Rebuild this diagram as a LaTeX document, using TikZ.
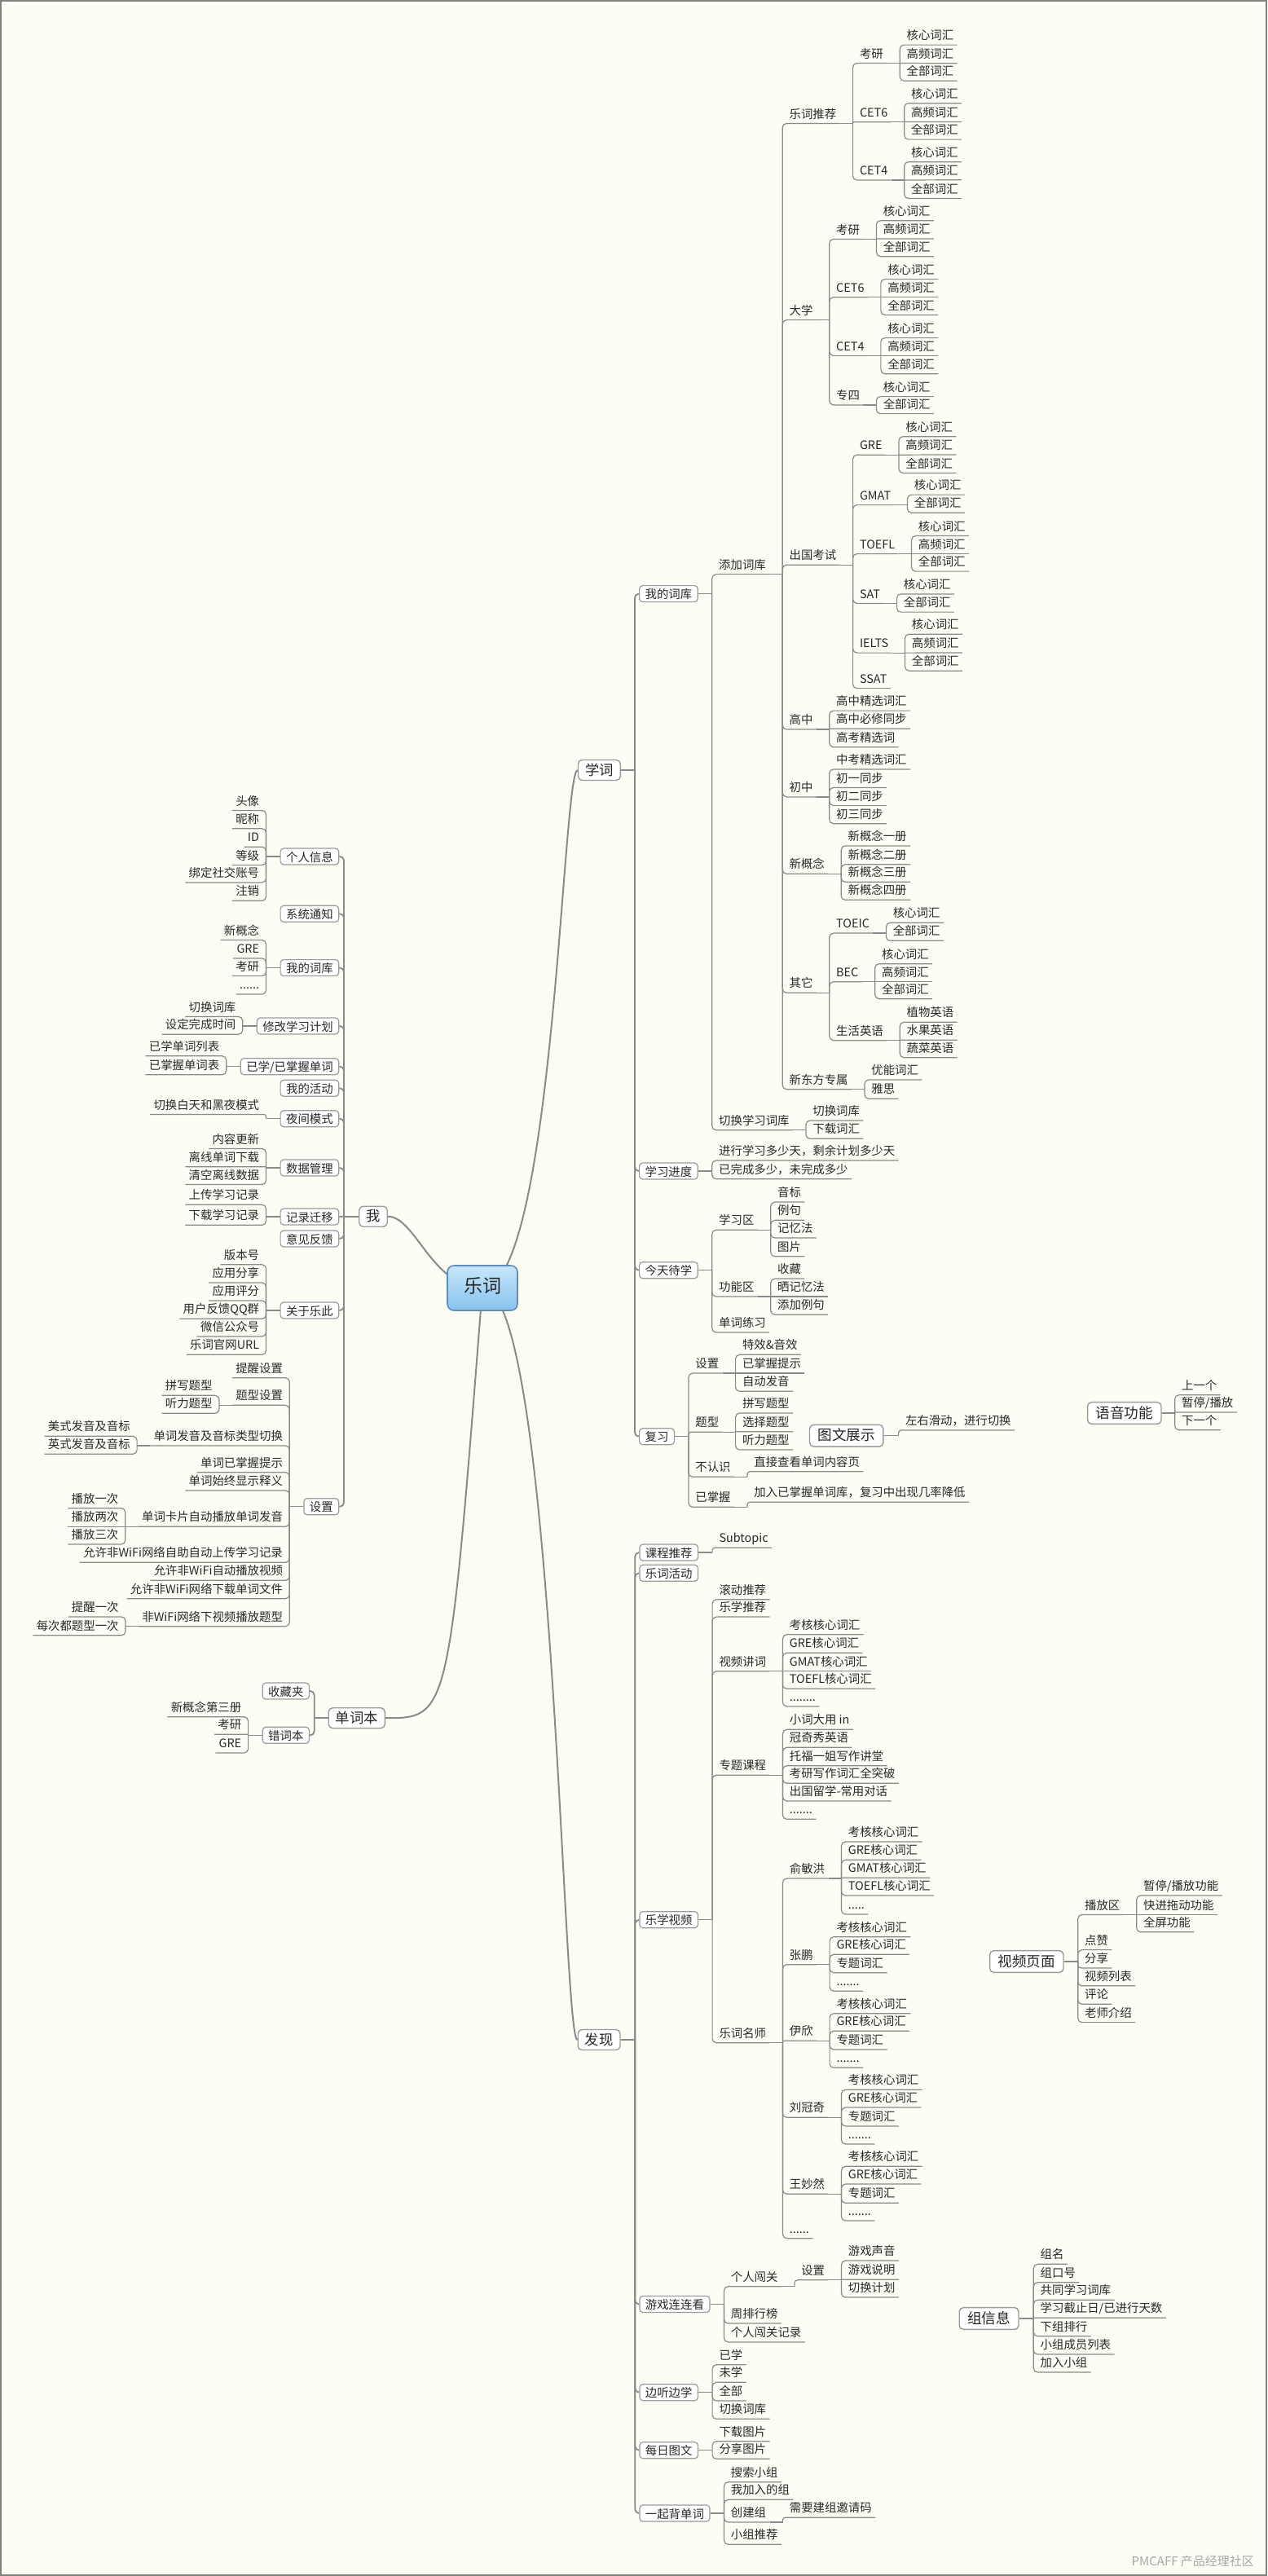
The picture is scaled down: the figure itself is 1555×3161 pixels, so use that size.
\documentclass[tikz,border=0pt]{standalone}
\usepackage{fontspec}
\setmainfont{Noto Sans CJK SC}
\usetikzlibrary{calc}
\definecolor{bgc}{RGB}{253,253,246}
\definecolor{linec}{RGB}{138,138,138}
\definecolor{txtc}{RGB}{40,40,40}
\definecolor{boxd}{RGB}{155,155,155}
\definecolor{frm}{RGB}{128,128,124}
\definecolor{roott}{RGB}{200,230,250}
\definecolor{rootb}{RGB}{135,195,238}
\definecolor{rootd}{RGB}{95,140,185}
\pgfdeclarelayer{back}\pgfdeclarelayer{bgl}\pgfsetlayers{back,bgl,main}
\tikzset{
 conn/.style={draw=linec, line width=0.6pt},
 conn2/.style={draw=linec, line width=0.9pt},
 conn3/.style={draw=linec, line width=1pt},
 lf/.style={font=\fontsize{7.2}{8.6}\selectfont, text=txtc, inner xsep=2pt, inner ysep=1pt, text height=0.82em, text depth=0.2em},
 leafR/.style={lf, anchor=south west, xshift=2pt},
 leafL/.style={lf, anchor=south east, xshift=-2pt},
 bx/.style={draw=boxd, fill=white, line width=0.6pt, rounded corners=2pt, font=\fontsize{7.2}{8.6}\selectfont, text=txtc, inner xsep=3.5pt, inner ysep=0pt, minimum height=10pt, text height=0.8em, text depth=0.18em},
 boxR/.style={bx, anchor=west, xshift=2.5pt},
 boxL/.style={bx, anchor=east, xshift=-2.85pt},
 mainbox/.style={draw=boxd, fill=white, line width=0.7pt, rounded corners=2.5pt, font=\fontsize{8.65}{10}\selectfont, text=black!85, inner xsep=4.3pt, inner ysep=0pt, minimum height=12.5pt, text height=0.8em, text depth=0.18em},
 floatbox/.style={mainbox, font=\fontsize{8.8}{10}\selectfont, inner xsep=5pt, minimum height=13.4pt},
 rootbox/.style={draw=rootd, top color=roott, bottom color=rootb, line width=0.8pt, rounded corners=4pt, font=\fontsize{11.5}{13}\selectfont, text=black!85, inner xsep=10pt, inner ysep=0pt, minimum height=27.5pt, text height=0.8em, text depth=0.18em}
}
\newcommand\mysetY[2]{\expandafter\xdef\csname yy-#1\endcsname{#2}}
\newcommand\mylnk[4]{%
  \draw[#1] (#2E) -- (#2J);%
  \pgfmathsetmacro\myrr{min(2.5,abs(#3-\csname yy-#2\endcsname)*0.25)}%
  \ifdim\myrr pt<0.08pt\relax
    \draw[#1] (#2J) -- (#4);%
  \else
    \draw[#1,rounded corners=\myrr pt] (#2J) |- (#4);%
  \fi}
\newcommand\lfR[4]{%
  \node[leafR] (#2) at (#1J |- 0,#3) {#4};%
  \mysetY{#2}{#3}%
  \coordinate (#2E) at (#2.south east);%
  \coordinate (#2J) at ([xshift=8pt]#2.south east);%
  \mylnk{conn}{#1}{#3}{#2.south east}}
\newcommand\lfL[4]{%
  \node[leafL] (#2) at (#1J |- 0,#3) {#4};%
  \mysetY{#2}{#3}%
  \coordinate (#2E) at (#2.south west);%
  \coordinate (#2J) at ([xshift=-8pt]#2.south west);%
  \mylnk{conn}{#1}{#3}{#2.south west}}
\newcommand\bxR[4]{%
  \node[boxR] (#2) at (#1J |- 0,#3) {#4};%
  \mysetY{#2}{#3}%
  \coordinate (#2E) at (#2.east);%
  \coordinate (#2J) at ([xshift=8.5pt]#2.east);%
  \mylnk{conn2}{#1}{#3}{#2.west}}
\newcommand\bxL[4]{%
  \node[boxL] (#2) at (#1J |- 0,#3) {#4};%
  \mysetY{#2}{#3}%
  \coordinate (#2E) at (#2.west);%
  \coordinate (#2J) at ([xshift=-8.5pt]#2.west);%
  \mylnk{conn2}{#1}{#3}{#2.east}}
\newcommand\prepR[3]{\mysetY{#1}{#2}\coordinate (#1E) at (#1.east);\coordinate (#1J) at ([xshift=#3]#1.east);}
\newcommand\prepL[3]{\mysetY{#1}{#2}\coordinate (#1E) at (#1.west);\coordinate (#1J) at ([xshift=-#3]#1.west);}
\newcommand\kgq[4]{\lfR{#1}{#1k}{#2}{核心词汇}\lfR{#1}{#1g}{#3}{高频词汇}\lfR{#1}{#1q}{#4}{全部词汇}}
\newcommand\kq[3]{\lfR{#1}{#1k}{#2}{核心词汇}\lfR{#1}{#1q}{#3}{全部词汇}}
\newcommand\msf[5]{\lfR{#1}{#1a}{#2}{考核核心词汇}\lfR{#1}{#1b}{#3}{GRE核心词汇}\lfR{#1}{#1c}{#4}{专题词汇}\lfR{#1}{#1d}{#5}{.......}}

\begin{document}
\begin{tikzpicture}[x=0.5pt,y=-0.5pt]
\useasboundingbox (0,0) rectangle (1555,3161);
\begin{pgfonlayer}{back}
\fill[bgc] (0,0) rectangle (1555,3161);
\draw[frm, line width=1.2pt] (1.2,1.2) rectangle (1553.8,3159.8);
\end{pgfonlayer}

\node[rootbox] (root) at (592,1580.5) {乐词};

% ================= 学词 =================
\node[mainbox, anchor=east] (xue) at (762,945) {学词}; \prepR{xue}{945}{8.5pt}
\bxR{xue}{wdck}{728.6}{我的词库}
\lfR{wdck}{tj}{704.6}{添加词库}
\lfR{tj}{aa}{151.5}{乐词推荐}
 \lfR{aa}{aaa}{77.5}{考研}\kgq{aaa}{55.1}{77.8}{99.2}
 \lfR{aa}{aab}{149.8}{CET6}\kgq{aab}{126.7}{149.4}{171.1}
 \lfR{aa}{aac}{221}{CET4}\kgq{aac}{198.7}{220.7}{243.5}
\lfR{tj}{ab}{392.6}{大学}
 \lfR{ab}{aba}{293.4}{考研}\kgq{aba}{270.7}{293}{314.7}
 \lfR{ab}{abb}{364.7}{CET6}\kgq{abb}{342.6}{364.7}{386.4}
 \lfR{ab}{abc}{436.6}{CET4}\kgq{abc}{414.6}{436.6}{458.7}
 \lfR{ab}{abd}{496.9}{专四}\kq{abd}{486.6}{507.6}
\lfR{tj}{ac}{693.2}{出国考试}
 \lfR{ac}{aca}{558.2}{GRE}\kgq{aca}{535.7}{557.9}{580.4}
 \lfR{ac}{acb}{619.6}{GMAT}\kq{acb}{607.1}{629.3}
 \lfR{ac}{acc}{679.6}{TOEFL}\kgq{acc}{657.5}{679.6}{701.1}
 \lfR{ac}{acd}{740.4}{SAT}\kq{acd}{728.9}{751.1}
 \lfR{ac}{ace}{801.1}{IELTS}\kgq{ace}{778.2}{801}{823.2}
 \lfR{ac}{acf}{844.6}{SSAT}
\lfR{tj}{ad}{895}{高中}
 \lfR{ad}{ada}{872.1}{高中精选词汇}
 \lfR{ad}{adb}{894.3}{高中必修同步}
 \lfR{ad}{adc}{916.8}{高考精选词}
\lfR{tj}{ae}{977.9}{初中}
 \lfR{ae}{aea}{943.9}{中考精选词汇}
 \lfR{ae}{aeb}{966.4}{初一同步}
 \lfR{ae}{aec}{988.6}{初二同步}
 \lfR{ae}{aed}{1010.7}{初三同步}
\lfR{tj}{af}{1072.3}{新概念}
 \lfR{af}{afa}{1037.9}{新概念一册}
 \lfR{af}{afb}{1060.7}{新概念二册}
 \lfR{af}{afc}{1082.3}{新概念三册}
 \lfR{af}{afd}{1104.3}{新概念四册}
\lfR{tj}{ag}{1218.3}{其它}
 \lfR{ag}{aga}{1145}{TOEIC}\kq{aga}{1132.3}{1154.3}
 \lfR{ag}{agb}{1204.7}{BEC}\kgq{agb}{1182.7}{1204.7}{1225.7}
 \lfR{ag}{agc}{1276.7}{生活英语}
  \lfR{agc}{agca}{1254.3}{植物英语}
  \lfR{agc}{agcb}{1276.3}{水果英语}
  \lfR{agc}{agcc}{1297.7}{蔬菜英语}
\lfR{tj}{ah}{1336.7}{新东方专属}
 \lfR{ah}{aha}{1325}{优能词汇}
 \lfR{ah}{ahb}{1348.3}{雅思}
\lfR{wdck}{qh}{1386.7}{切换学习词库}
 \lfR{qh}{qha}{1375}{切换词库}
 \lfR{qh}{qhb}{1397.3}{下载词汇}
\bxR{xue}{jd}{1437}{学习进度}
 \lfR{jd}{jda}{1424}{进行学习多少天，剩余计划多少天}
 \lfR{jd}{jdb}{1446.7}{已完成多少，未完成多少}
\bxR{xue}{dx}{1558.7}{今天待学}
 \lfR{dx}{dxa}{1509.3}{学习区}
  \lfR{dxa}{dxa1}{1475}{音标}
  \lfR{dxa}{dxa2}{1497.3}{例句}
  \lfR{dxa}{dxa3}{1519}{记忆法}
  \lfR{dxa}{dxa4}{1541.7}{图片}
 \lfR{dx}{dxb}{1591}{功能区}
  \lfR{dxb}{dxb1}{1569}{收藏}
  \lfR{dxb}{dxb2}{1591}{晒记忆法}
  \lfR{dxb}{dxb3}{1613.3}{添加例句}
 \lfR{dx}{dxc}{1635}{单词练习}
\bxR{xue}{fu}{1762.7}{复习}
 \lfR{fu}{fua}{1685}{设置}
  \lfR{fua}{fua1}{1662.3}{特效\&音效}
  \lfR{fua}{fua2}{1685}{已掌握提示}
  \lfR{fua}{fua3}{1707.3}{自动发音}
 \lfR{fu}{fub}{1757.3}{题型}
  \lfR{fub}{fub1}{1734}{拼写题型}
  \lfR{fub}{fub2}{1756.7}{选择题型}
  \lfR{fub}{fub3}{1779}{听力题型}
 \lfR{fu}{fuc}{1812.3}{不认识}
  \lfR{fuc}{fuc1}{1805.7}{直接查看单词内容页}
 \lfR{fu}{fud}{1849.3}{已掌握}
  \lfR{fud}{fud1}{1843.3}{加入已掌握单词库，复习中出现几率降低}

% ================= floating topics =================
\node[floatbox, anchor=east] (tw) at (1084.6,1761.7) {图文展示}; \prepR{tw}{1761.7}{9pt}
 \lfR{tw}{twa}{1755}{左右滑动，进行切换}
\node[floatbox, anchor=east] (yy) at (1425.7,1734) {语音功能}; \prepR{yy}{1734}{8pt}
 \lfR{yy}{yya}{1711.8}{上一个}
 \lfR{yy}{yyb}{1733}{暂停/播放}
 \lfR{yy}{yyc}{1754.8}{下一个}
\node[floatbox, anchor=east] (sp) at (1305.7,2407) {视频页面}; \prepR{sp}{2407}{8.5pt}
 \lfR{sp}{spa}{2349.5}{播放区}
  \lfR{spa}{spa1}{2326}{暂停/播放功能}
  \lfR{spa}{spa2}{2349.5}{快进拖动功能}
  \lfR{spa}{spa3}{2370.8}{全屏功能}
 \lfR{sp}{spb}{2392.6}{点赞}
 \lfR{sp}{spc}{2415}{分享}
 \lfR{sp}{spd}{2436.8}{视频列表}
 \lfR{sp}{spe}{2459.2}{评论}
 \lfR{sp}{spf}{2481.6}{老师介绍}
\node[floatbox, anchor=east] (zx) at (1250.7,2845) {组信息}; \prepR{zx}{2845}{8.8pt}
 \lfR{zx}{zxa}{2778.3}{组名}
 \lfR{zx}{zxb}{2800.7}{组口号}
 \lfR{zx}{zxc}{2822.3}{共同学习词库}
 \lfR{zx}{zxd}{2844.3}{学习截止日/已进行天数}
 \lfR{zx}{zxe}{2866.7}{下组排行}
 \lfR{zx}{zxf}{2889}{小组成员列表}
 \lfR{zx}{zxg}{2911}{加入小组}

% ================= 发现 =================
\node[mainbox, anchor=east] (fx) at (761.7,2503) {发现}; \prepR{fx}{2503}{8.8pt}
\bxR{fx}{kc}{1905}{课程推荐}
 \lfR{kc}{kca}{1899.3}{Subtopic}
\bxR{fx}{hd}{1930.3}{乐词活动}
\bxR{fx}{lx}{2355.7}{乐学视频}
 \lfR{lx}{lxa}{1962.7}{滚动推荐}
 \lfR{lx}{lxb}{1984}{乐学推荐}
 \lfR{lx}{lxc}{2050.7}{视频讲词}
  \lfR{lxc}{lxc1}{2005.7}{考核核心词汇}
  \lfR{lxc}{lxc2}{2028.3}{GRE核心词汇}
  \lfR{lxc}{lxc3}{2050.7}{GMAT核心词汇}
  \lfR{lxc}{lxc4}{2072.3}{TOEFL核心词汇}
  \lfR{lxc}{lxc5}{2094}{........}
 \lfR{lx}{lxd}{2178.3}{专题课程}
  \lfR{lxd}{lxd1}{2122.3}{小词大用 in}
  \lfR{lxd}{lxd2}{2144.3}{冠奇秀英语}
  \lfR{lxd}{lxd3}{2166.7}{托福一姐写作讲堂}
  \lfR{lxd}{lxd4}{2188.3}{考研写作词汇全突破}
  \lfR{lxd}{lxd5}{2210}{出国留学-常用对话}
  \lfR{lxd}{lxd6}{2232.3}{.......}
 \lfR{lx}{lxe}{2506.7}{乐词名师}
  \lfR{lxe}{ms1}{2305}{俞敏洪}
   \lfR{ms1}{ms1a}{2260}{考核核心词汇}
   \lfR{ms1}{ms1b}{2282.3}{GRE核心词汇}
   \lfR{ms1}{ms1c}{2304.3}{GMAT核心词汇}
   \lfR{ms1}{ms1d}{2326}{TOEFL核心词汇}
   \lfR{ms1}{ms1e}{2349}{.....}
  \lfR{lxe}{ms2}{2410.7}{张鹏}\msf{ms2}{2376.7}{2398.3}{2420.7}{2443.3}
  \lfR{lxe}{ms3}{2504.3}{伊欣}\msf{ms3}{2470.7}{2492.3}{2515}{2537.3}
  \lfR{lxe}{ms4}{2598.3}{刘冠奇}\msf{ms4}{2564.3}{2586}{2609}{2631}
  \lfR{lxe}{ms5}{2692.3}{王妙然}\msf{ms5}{2658.3}{2680}{2703.3}{2725}
  \lfR{lxe}{ms6}{2746.7}{......}
\bxR{fx}{yx}{2827.5}{游戏连连看}
 \lfR{yx}{yxa}{2805.7}{个人闯关}
  \lfR{yxa}{yxa1}{2797.7}{设置}
   \lfR{yxa1}{yxa11}{2774}{游戏声音}
   \lfR{yxa1}{yxa12}{2797.3}{游戏说明}
   \lfR{yxa1}{yxa13}{2819}{切换计划}
 \lfR{yx}{yxb}{2851}{周排行榜}
 \lfR{yx}{yxc}{2874}{个人闯关记录}
\bxR{fx}{bt}{2935.7}{边听边学}
 \lfR{bt}{bta}{2901.7}{已学}
 \lfR{bt}{btb}{2923.3}{未学}
 \lfR{bt}{btc}{2946}{全部}
 \lfR{bt}{btd}{2968.3}{切换词库}
\bxR{fx}{mr}{3006.7}{每日图文}
 \lfR{mr}{mra}{2995.7}{下载图片}
 \lfR{mr}{mrb}{3017.3}{分享图片}
\bxR{fx}{yq}{3084}{一起背单词}
 \lfR{yq}{yqa}{3045.7}{搜索小组}
 \lfR{yq}{yqb}{3067.3}{我加入的组}
 \lfR{yq}{yqc}{3095}{创建组}
  \lfR{yqc}{yqc1}{3089.3}{需要建组邀请码}
 \lfR{yq}{yqd}{3122.3}{小组推荐}

% ================= 我 =================
\node[mainbox, anchor=west] (wo) at (440,1492.7) {我}; \prepL{wo}{1492.7}{9pt}
\bxL{wo}{gr}{1051}{个人信息}
 \lfL{gr}{gr1}{994.4}{头像}
 \lfL{gr}{gr2}{1016.8}{昵称}
 \lfL{gr}{gr3}{1039.2}{ID}
 \lfL{gr}{gr4}{1061.6}{等级}
 \lfL{gr}{gr5}{1082.9}{绑定社交账号}
 \lfL{gr}{gr6}{1105.3}{注销}
\bxL{wo}{xt}{1121.3}{系统通知}
\bxL{wo}{wk}{1187.6}{我的词库}
 \lfL{wk}{wk1}{1153.5}{新概念}
 \lfL{wk}{wk2}{1175.9}{GRE}
 \lfL{wk}{wk3}{1197.6}{考研}
 \lfL{wk}{wk4}{1220}{......}
\bxL{wo}{xg}{1259}{修改学习计划}
 \lfL{xg}{xg1}{1247.5}{切换词库}
 \lfL{xg}{xg2}{1269.2}{设定完成时间}
\bxL{wo}{yz}{1308.7}{已学/已掌握单词}
 \lfL{yz}{yz1}{1295.7}{已学单词列表}
 \lfL{yz}{yz2}{1318.8}{已掌握单词表}
\bxL{wo}{hdL}{1335.3}{我的活动}
\bxL{wo}{yj}{1372.7}{夜间模式}
 \lfL{yj}{yj1}{1367.4}{切换白天和黑夜模式}
\bxL{wo}{sj}{1433}{数据管理}
 \lfL{sj}{sj1}{1409.4}{内容更新}
 \lfL{sj}{sj2}{1431.8}{离线单词下载}
 \lfL{sj}{sj3}{1453.5}{清空离线数据}
\bxL{wo}{jl}{1493}{记录迁移}
 \lfL{jl}{jl1}{1478.2}{上传学习记录}
 \lfL{jl}{jl2}{1503.3}{下载学习记录}
\bxL{wo}{yjf}{1520}{意见反馈}
\bxL{wo}{gy}{1608}{关于乐此}
 \lfL{gy}{gy1}{1551.7}{版本号}
 \lfL{gy}{gy2}{1574}{应用分享}
 \lfL{gy}{gy3}{1596}{应用评分}
 \lfL{gy}{gy4}{1618.3}{用户反馈QQ群}
 \lfL{gy}{gy5}{1640}{微信公众号}
 \lfL{gy}{gy6}{1662.3}{乐词官网URL}
\bxL{wo}{sz}{1848.7}{设置}
 \lfL{sz}{sza}{1690.7}{提醒设置}
 \lfL{sz}{szb}{1724.3}{题型设置}
  \lfL{szb}{szb1}{1712.3}{拼写题型}
  \lfL{szb}{szb2}{1734.3}{听力题型}
 \lfL{sz}{szc}{1774}{单词发音及音标类型切换}
  \lfL{szc}{szc1}{1762.3}{美式发音及音标}
  \lfL{szc}{szc2}{1784.3}{英式发音及音标}
 \lfL{sz}{szd}{1806.7}{单词已掌握提示}
 \lfL{sz}{sze}{1829}{单词始终显示释义}
 \lfL{sz}{szf}{1873.3}{单词卡片自动播放单词发音}
  \lfL{szf}{szf1}{1850.7}{播放一次}
  \lfL{szf}{szf2}{1873.3}{播放两次}
  \lfL{szf}{szf3}{1895}{播放三次}
 \lfL{sz}{szg}{1917.3}{允许非WiFi网络自助自动上传学习记录}
 \lfL{sz}{szh}{1939.3}{允许非WiFi自动播放视频}
 \lfL{sz}{szi}{1961.7}{允许非WiFi网络下载单词文件}
 \lfL{sz}{szj}{1995.7}{非WiFi网络下视频播放题型}
  \lfL{szj}{szj1}{1984}{提醒一次}
  \lfL{szj}{szj2}{2006.7}{每次都题型一次}

% ================= 单词本 =================
\node[mainbox, anchor=west] (dc) at (402.5,2108.2) {单词本}; \prepL{dc}{2108.2}{8.4pt}
\bxL{dc}{sc}{2075}{收藏夹}
\bxL{dc}{cc}{2129.3}{错词本}
 \lfL{cc}{cc1}{2106.7}{新概念第三册}
 \lfL{cc}{cc2}{2128.3}{考研}
 \lfL{cc}{cc3}{2151}{GRE}

% ================= main curves =================
\begin{pgfonlayer}{bgl}
\draw[conn3] (root.center) .. controls (680,1580) and (690,945) .. (xue.west);
\draw[conn3] (root.center) .. controls (680,1580) and (690,2503) .. (fx.west);
\draw[conn3] (root.center) .. controls (530,1580) and (510,1492.7) .. (wo.east);
\draw[conn3] (root.center) .. controls (551,2108.2) .. (dc.east);
\end{pgfonlayer}

\node[font=\fontsize{7.5}{9}\selectfont, text=black!35, anchor=east] (wm) at (1546,3143) {PMCAFF 产品经理社区};
\end{tikzpicture}
\end{document}
